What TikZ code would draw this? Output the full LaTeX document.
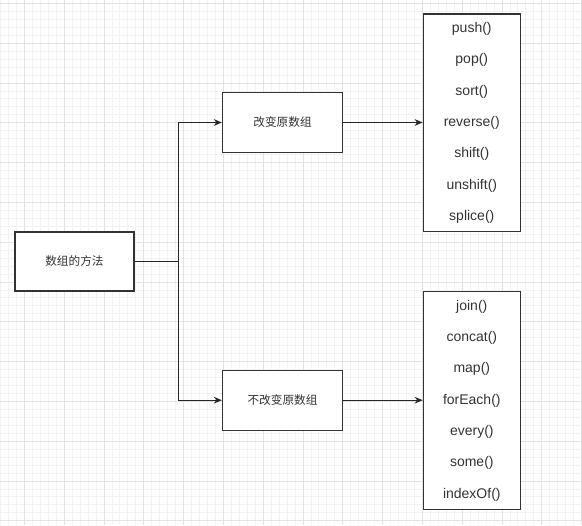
\documentclass[tikz,border=0pt]{standalone}
\usepackage{fontspec}
\setmainfont{Liberation Sans}
\newfontfamily\cjk{Noto Sans CJK SC}
\usetikzlibrary{arrows.meta}
\definecolor{minorgrid}{HTML}{F2F2F2}
\definecolor{majorgrid}{HTML}{E2E2E2}
\definecolor{ink}{HTML}{333333}
\begin{document}
\begin{tikzpicture}[x=0.75pt,y=-0.75pt,
  box/.style={draw=black!80, line width=1pt, fill=white, inner sep=0pt},
  cjktext/.style={font=\cjk\fontsize{8.75pt}{10pt}\selectfont, text=ink},
  item/.style={font=\fontsize{10.5pt}{12pt}\selectfont, text=ink, inner sep=0pt},
  conn/.style={draw=black!85, line width=1pt},
  arr/.style={conn, -{Stealth[length=6pt,width=5pt]}}]
\useasboundingbox (0,0) rectangle (582,525);
\fill[white] (0,0) rectangle (582,525);
% grid
\foreach \i in {0,...,73} \draw[minorgrid, line width=0.5pt] (0.42+\i*7.96,0) -- (0.42+\i*7.96,525);
\foreach \i in {0,...,66} \draw[minorgrid, line width=0.5pt] (0,3.3+\i*7.96) -- (582,3.3+\i*7.96);
\foreach \i in {0,...,14} \draw[majorgrid, line width=0.6pt] (24.3+\i*39.8,0) -- (24.3+\i*39.8,525);
\foreach \i in {0,...,13} \draw[majorgrid, line width=0.6pt] (0,3.3+\i*39.8) -- (582,3.3+\i*39.8);
% nodes
\node[box, cjktext, minimum width=89.25pt, minimum height=44.25pt] (root) at (74.5,261.5) {数组的方法};
\node[box, cjktext, minimum width=90pt, minimum height=45pt] (m1) at (282.5,122.5) {改变原数组};
\node[box, cjktext, minimum width=90pt, minimum height=45pt] (m2) at (282.5,400.2) {不改变原数组};
\node[box, minimum width=72.75pt, minimum height=163.3pt] (L1) at (471.8,122.8) {};
\node[box, minimum width=72.75pt, minimum height=163.3pt] (L2) at (471.8,400.5) {};
\foreach \t [count=\k from 0] in {push(),pop(),sort(),reverse(),shift(),unshift(),splice()}
  \node[item] (a\k) at (471.8,28.9+\k*31.3) {\t};
\foreach \t [count=\k from 0] in {join(),concat(),map(),forEach(),every(),some(),indexOf()}
  \node[item] (b\k) at (471.8,306.6+\k*31.3) {\t};
% connectors
\coordinate (j) at (178.7,261.5);
\draw[conn] (root.east) -- (j);
\draw[arr] (j) |- (m1.west);
\draw[arr] (j) |- (m2.west);
\draw[arr] (m1.east) -- (m1.east -| L1.west);
\draw[arr] (m2.east) -- (m2.east -| L2.west);
\end{tikzpicture}
\end{document}
